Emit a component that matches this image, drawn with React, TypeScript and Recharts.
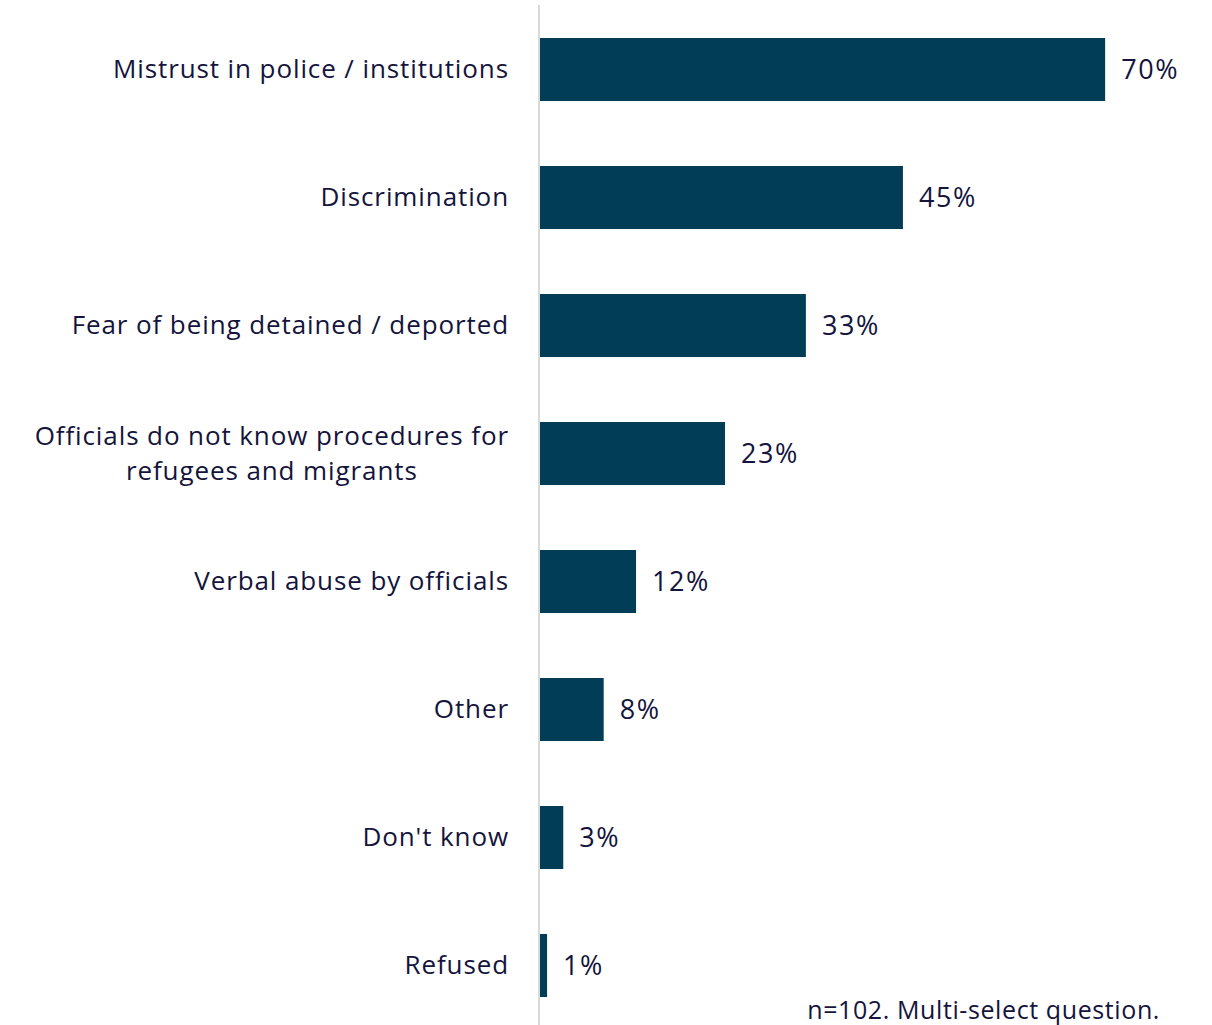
import React from "react";
import { BarChart, Bar, XAxis, YAxis, LabelList } from "recharts";

const categories = [
  "Mistrust in police / institutions",
  "Discrimination",
  "Fear of being detained / deported",
  "Officials do not know procedures for\nrefugees and migrants",
  "Verbal abuse by officials",
  "Other",
  "Don't know",
  "Refused",
];
const shares = [70, 45, 33, 23, 12, 8, 3, 1];
const note = "n=102. Multi-select question.";

const data = categories.map((name, i) => ({ name, value: shares[i] }));

const FONT = "'Open Sans', sans-serif";
const TEXT = "#14143c";
const SIZE = 26;
const SPACING = 0.9;

let ctx: CanvasRenderingContext2D | null = null;
function measure(s: string) {
  if (!ctx) ctx = document.createElement("canvas").getContext("2d");
  if (!ctx) return s.length * SIZE * 0.5;
  ctx.font = `${SIZE}px ${FONT}`;
  return ctx.measureText(s).width + s.length * SPACING;
}

function Tick(props: any) {
  const { x, y, payload } = props;
  const lines: string[] = String(payload.value).split("\n");
  const lh = 35;
  const widest = Math.max(...lines.map(measure));
  const cx = x - widest / 2;
  const top = y - ((lines.length - 1) * lh) / 2;
  return (
    <g>
      {lines.map((l, i) => (
        <text
          key={i}
          x={lines.length > 1 ? cx : x}
          y={top + i * lh}
          dy="0.35em"
          textAnchor={lines.length > 1 ? "middle" : "end"}
          fill={TEXT}
          fontSize={SIZE}
          fontFamily={FONT}
          letterSpacing={SPACING}
        >
          {l}
        </text>
      ))}
    </g>
  );
}

export default function App() {
  return (
    <div
      style={{
        position: "absolute",
        left: 0,
        top: 0,
        width: 1212,
        height: 1025,
        overflow: "hidden",
        background: "#fff",
      }}
    >
      <BarChart
        width={1212}
        height={1034}
        data={data}
        layout="vertical"
        margin={{ top: 5, right: 26, bottom: 5, left: 0 }}
        barSize={63}
      >
        <XAxis type="number" domain={[0, 80]} hide />
        <YAxis
          type="category"
          dataKey="name"
          width={539}
          axisLine={{ stroke: "#d9d9d9", strokeWidth: 2 }}
          tickLine={false}
          tick={<Tick />}
          tickMargin={24}
          interval={0}
        />
        <Bar dataKey="value" fill="#023d57" isAnimationActive={false}>
          <LabelList
            dataKey="value"
            position="right"
            offset={16}
            formatter={(v: any) => `${v}%`}
            fill={TEXT}
            fontSize={27}
            fontFamily={FONT}
            letterSpacing={1.6}
          />
        </Bar>
      </BarChart>
      <div
        style={{
          position: "absolute",
          right: 52,
          top: 992,
          fontFamily: FONT,
          fontSize: 25,
          letterSpacing: 0.6,
          color: TEXT,
          whiteSpace: "nowrap",
        }}
      >
        {note}
      </div>
    </div>
  );
}
